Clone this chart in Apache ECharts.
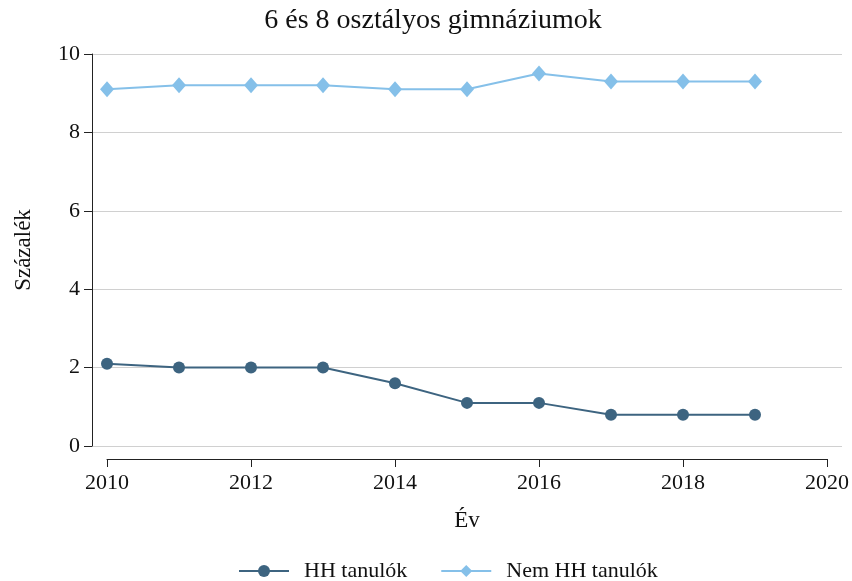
<!DOCTYPE html>
<html>
<head>
<meta charset="utf-8">
<script src="https://cdn.jsdelivr.net/npm/echarts@6/dist/echarts.min.js"></script>
<style>
  html, body { margin: 0; padding: 0; background: #fff; }
  #chart { width: 852px; height: 581px; }
</style>
</head>
<body>
<div id="chart"></div>
<script>
const years = [2010, 2011, 2012, 2013, 2014, 2015, 2016, 2017, 2018, 2019];
const hhTanulok = [2.1, 2.0, 2.0, 2.0, 1.6, 1.1, 1.1, 0.8, 0.8, 0.8];
const nemHhTanulok = [9.1, 9.2, 9.2, 9.2, 9.1, 9.1, 9.5, 9.3, 9.3, 9.3];
const xTicks = [2010, 2012, 2014, 2016, 2018, 2020];
const yTicks = [0, 2, 4, 6, 8, 10];

const font = "'Liberation Serif', 'Times New Roman', serif";
const chart = echarts.init(document.getElementById("chart"));

const option = {
  animation: false,
  textStyle: { fontFamily: font },
  title: {
    text: "6 és 8 osztályos gimnáziumok",
    left: 428,
    textAlign: "center",
    top: 2,
    textStyle: { fontFamily: font, fontSize: 28, fontWeight: "normal", color: "#111" },
  },
  legend: {
    top: 555,
    left: 233,
    itemWidth: 50,
    itemHeight: 15,
    itemGap: 33,
    textStyle: { fontFamily: font, fontSize: 22, color: "#111", padding: [0, 0, 0, 10] },
    data: ["HH tanulók", "Nem HH tanulók"],
  },
  grid: [
    { left: 107, right: 24, top: 54, bottom: 135 },
    // wider grid only for the horizontal gridlines
    { left: 92, right: 10, top: 54, bottom: 135 },
  ],
  xAxis: [
    {
      type: "value",
      gridIndex: 0,
      min: xTicks[0],
      max: xTicks[xTicks.length - 1],
      interval: 2,
      offset: 13,
      name: "Év",
      nameLocation: "middle",
      nameGap: 50,
      nameTextStyle: { fontFamily: font, fontSize: 23, color: "#111" },
      axisLine: { onZero: false, lineStyle: { color: "#222", width: 1 } },
      axisTick: { show: true, length: 8, lineStyle: { color: "#222" } },
      axisLabel: { fontFamily: font, fontSize: 22, color: "#111", margin: 13, formatter: (v) => String(v) },
      splitLine: { show: false },
    },
    {
      type: "value",
      gridIndex: 1,
      min: 0,
      max: 1,
      show: false,
    },
  ],
  yAxis: [
    {
      type: "value",
      gridIndex: 0,
      min: yTicks[0],
      max: yTicks[yTicks.length - 1],
      interval: 2,
      offset: 15,
      name: "Százalék",
      nameLocation: "middle",
      nameGap: 57,
      nameTextStyle: { fontFamily: font, fontSize: 23, color: "#111" },
      axisLine: { show: true, onZero: false, lineStyle: { color: "#222", width: 1 } },
      axisTick: { show: true, length: 8, lineStyle: { color: "#222" } },
      axisLabel: { fontFamily: font, fontSize: 22, color: "#111", margin: 12 },
      splitLine: { show: false },
    },
    {
      type: "value",
      gridIndex: 1,
      min: yTicks[0],
      max: yTicks[yTicks.length - 1],
      interval: 2,
      axisLine: { show: false },
      axisTick: { show: false },
      axisLabel: { show: false },
      splitLine: { show: true, lineStyle: { color: "#d0d0d0", width: 1 } },
    },
  ],
  series: [
    {
      name: "HH tanulók",
      type: "line",
      xAxisIndex: 0,
      yAxisIndex: 0,
      data: years.map((y, i) => [y, hhTanulok[i]]),
      symbol: "circle",
      symbolSize: 12,
      lineStyle: { color: "#3d6480", width: 2 },
      itemStyle: { color: "#3d6480" },
      z: 3,
    },
    {
      name: "Nem HH tanulók",
      type: "line",
      xAxisIndex: 0,
      yAxisIndex: 0,
      data: years.map((y, i) => [y, nemHhTanulok[i]]),
      symbol: "diamond",
      symbolSize: [14, 16],
      lineStyle: { color: "#85c0e9", width: 2 },
      itemStyle: { color: "#85c0e9" },
      z: 3,
    },
  ],
};

chart.setOption(option);
</script>
</body>
</html>
